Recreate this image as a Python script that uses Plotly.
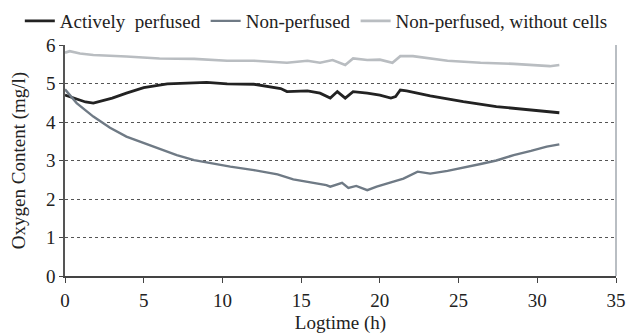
import plotly.graph_objects as go

# Actively perfused
t_active = [0.0, 0.3, 0.8, 1.3, 1.8, 2.4, 3.0, 3.9, 5.0, 6.5, 8.0, 9.0, 10.3, 12.0, 13.7, 14.1, 15.4, 16.2, 16.85, 17.3, 17.8, 18.3, 19.2, 20.0, 20.7, 21.0, 21.3, 21.7, 23.2, 25.3, 27.4, 29.6, 31.4]
v_active = [4.70, 4.66, 4.58, 4.52, 4.49, 4.55, 4.62, 4.75, 4.89, 4.99, 5.02, 5.03, 4.99, 4.98, 4.87, 4.79, 4.81, 4.75, 4.62, 4.79, 4.62, 4.79, 4.75, 4.70, 4.62, 4.66, 4.83, 4.81, 4.68, 4.53, 4.40, 4.31, 4.24]

# Non-perfused
t_non = [0.0, 0.74, 1.8, 2.86, 3.9, 5.0, 6.0, 7.1, 8.2, 9.2, 10.5, 12.0, 13.5, 14.5, 15.8, 16.6, 16.85, 17.6, 18.0, 18.5, 19.2, 19.8, 20.7, 21.5, 22.4, 23.2, 24.3, 25.3, 26.4, 27.4, 28.5, 29.6, 30.6, 31.4]
v_non = [4.85, 4.49, 4.14, 3.85, 3.62, 3.45, 3.30, 3.14, 3.01, 2.93, 2.84, 2.75, 2.64, 2.51, 2.42, 2.36, 2.32, 2.42, 2.29, 2.34, 2.23, 2.32, 2.43, 2.53, 2.71, 2.66, 2.73, 2.81, 2.91, 3.00, 3.14, 3.25, 3.36, 3.42]

# Non-perfused, without cells
t_nocell = [0.0, 0.3, 0.95, 1.8, 3.9, 6.0, 8.2, 10.3, 12.0, 14.1, 15.4, 16.2, 17.0, 17.8, 18.3, 19.2, 20.0, 20.8, 21.3, 22.1, 24.3, 26.4, 28.5, 30.8, 31.4]
v_nocell = [5.80, 5.84, 5.78, 5.74, 5.70, 5.65, 5.64, 5.59, 5.59, 5.54, 5.59, 5.54, 5.61, 5.48, 5.65, 5.61, 5.62, 5.54, 5.71, 5.71, 5.59, 5.54, 5.51, 5.45, 5.48]

x_ticks = [0, 5, 10, 15, 20, 25, 30, 35]
y_ticks = [0, 1, 2, 3, 4, 5, 6]

FONT = "Liberation Serif"
TXT = "#222222"
FS = 19

fig = go.Figure()
fig.add_trace(go.Scatter(x=t_active, y=v_active, mode="lines", name="Actively  perfused",
                         line=dict(color="#222222", width=2.8)))
fig.add_trace(go.Scatter(x=t_non, y=v_non, mode="lines", name="Non-perfused",
                         line=dict(color="#6f7a85", width=2.4)))
fig.add_trace(go.Scatter(x=t_nocell, y=v_nocell, mode="lines", name="Non-perfused, without cells",
                         line=dict(color="#b9bdc1", width=2.6)))

fig.update_layout(
    width=636, height=334,
    margin=dict(l=65, r=20, t=45, b=58, autoexpand=False),
    paper_bgcolor="white", plot_bgcolor="white",
    font=dict(family=FONT, size=FS, color=TXT),
    showlegend=True,
    legend=dict(orientation="h", x=-0.082, xanchor="left", y=1.104, yanchor="middle",
                font=dict(family=FONT, size=FS, color=TXT), itemwidth=30, tracegroupgap=0,
                bgcolor="rgba(0,0,0,0)"),
    xaxis=dict(range=[0, 35], tickvals=x_ticks, ticks="outside", ticklen=5, tickcolor="#444",
               showline=True, linecolor="#444", linewidth=1.5, showgrid=False, zeroline=False,
               automargin=False, ticklabelstandoff=1,
               title=dict(text="Logtime (h)", standoff=7, font=dict(family=FONT, size=FS, color=TXT)),
               tickfont=dict(family=FONT, size=FS, color=TXT)),
    yaxis=dict(range=[0, 6], tickvals=y_ticks, ticks="outside", ticklen=4, tickcolor="#444",
               showline=True, linecolor="#555", linewidth=1.5, showgrid=True,
               gridcolor="#555", griddash="dot", gridwidth=1, zeroline=False,
               automargin=False,
               title=dict(text="Oxygen Content (mg/l)", standoff=15, font=dict(family=FONT, size=FS, color=TXT)),
               tickfont=dict(family=FONT, size=FS, color=TXT)),
    shapes=[dict(type="line", xref="paper", yref="paper", x0=1, x1=1, y0=0, y1=1,
                 line=dict(color="#8a939b", width=1.2))],
)

fig.write_html("out.html", config={"displayModeBar": False},
               post_script="document.body.style.margin='0';")
